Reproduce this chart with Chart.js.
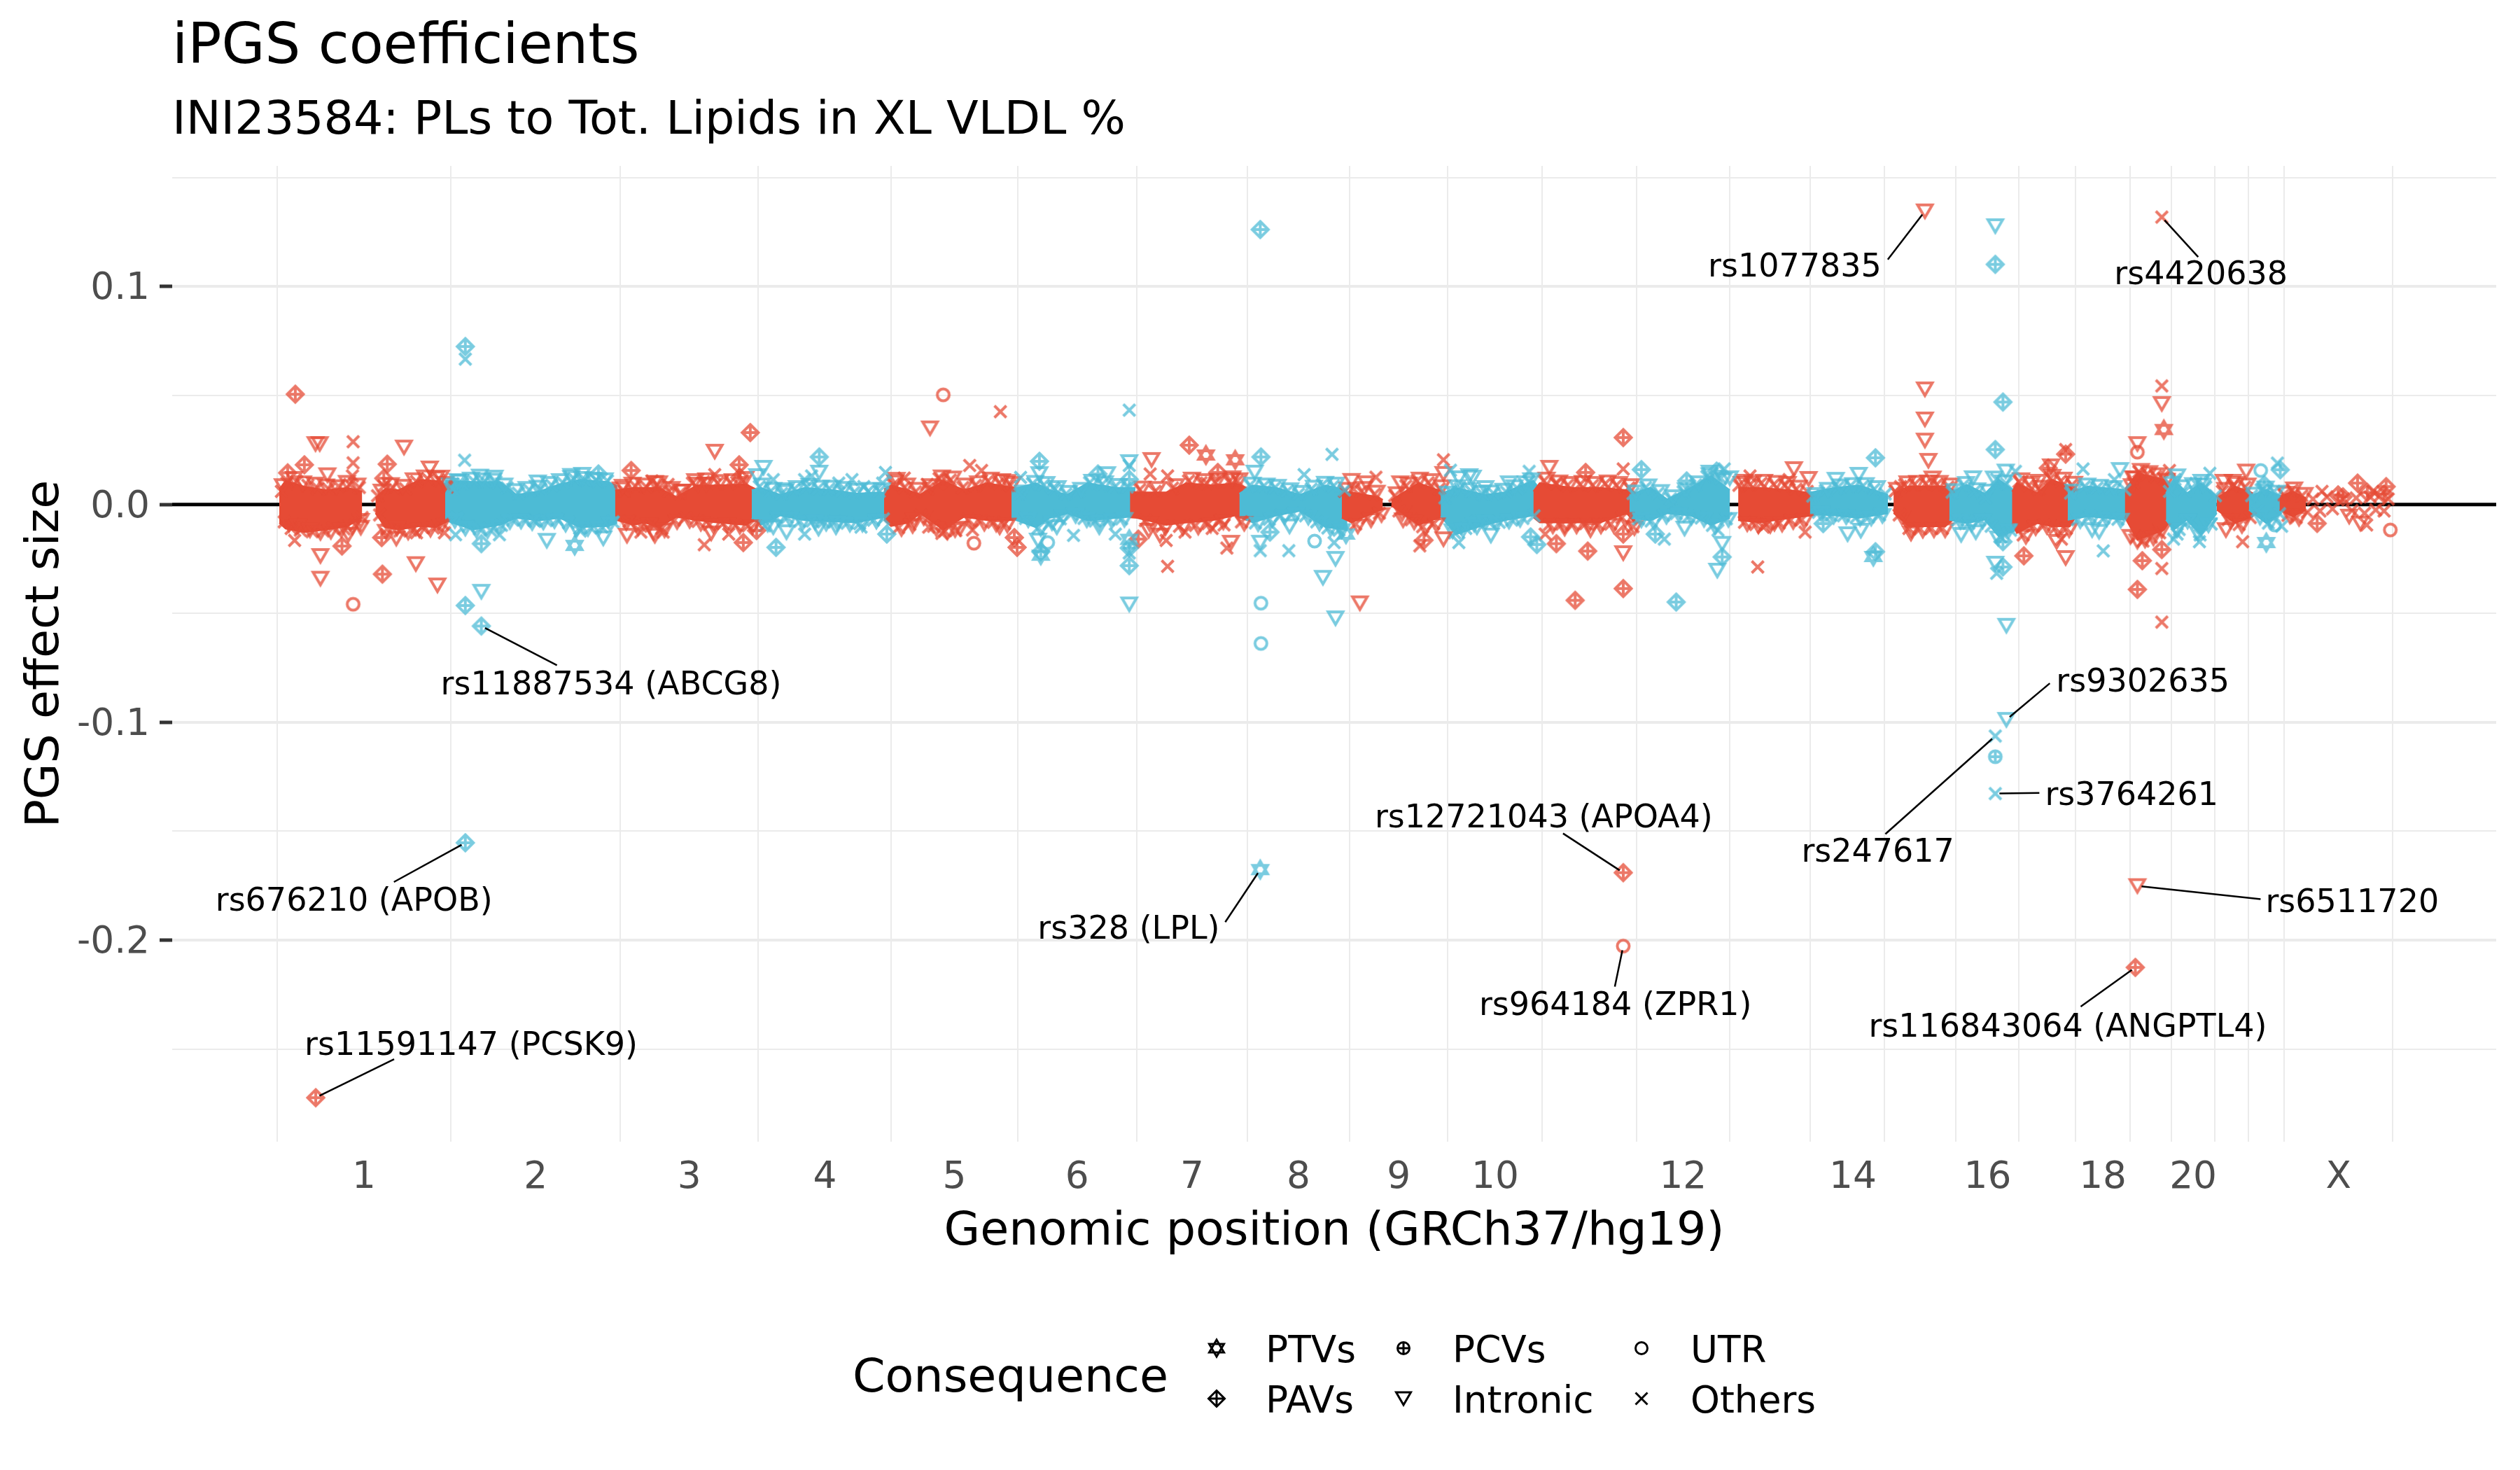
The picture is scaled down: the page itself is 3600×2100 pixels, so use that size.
<!DOCTYPE html>
<html><head><meta charset="utf-8"><style>html,body{margin:0;padding:0;background:#fff}canvas{display:block}</style>
<script src="https://cdn.jsdelivr.net/npm/chart.js@4"></script></head><body><canvas id="c" width="3600" height="2100"></canvas>
<script>
const chromLengths=[249.25,243.2,198.02,191.15,180.92,171.12,159.14,146.36,141.21,135.53,135,133.85,115.17,107.35,102.53,90.35,81.2,78.08,59.13,63.03,48.13,51.3,155.27];
const chromLabels=['1','2','3','4','5','6','7','8','9','10','','12','','14','','16','','18','','20','','','X'];
const chromLabelShift=[0,0,0,0,0,0,0,0,0,0,0,0,0,8,0,0,0,0,0,0,0,0,0];
const yMajorTicks=[0.1,0,-0.1,-0.2];
const yMinorTicks=[0.15,0.05,-0.05,-0.15,-0.25];

// Solid core of each chromosome's cloud, where single markers cannot be told apart: [Mb, upper, lower]
const coreChr1a=[[3,70,-85],[12,109,-111],[39,82,-127],[70,66,-116],[101,77,-100],[122,60,-60]];
const coreChr1b=[[141,30,-40],[155,72,-105],[174,66,-116],[205,114,-100],[228,109,-105],[249,85,-70]];
const coreChr2=[[241,109,-73],[281,104,-116],[320,104,-94],[343,45,-62],[377,61,-73],[405,93,-62],[435,114,-105],[474,104,-100],[488,85,-85]];
const coreChr3=[[485,65,-70],[512,77,-94],[527,77,-83],[548,77,-105],[573,34,-57],[602,88,-73],[631,88,-83],[673,93,-94],[690,66,-60]];
const coreChr4=[[681,66,-62],[694,77,-94],[722,45,-51],[757,77,-73],[798,66,-78],[831,50,-83],[865,56,-62],[880,50,-50]];
const coreChr5=[[871,70,-70],[881,88,-100],[906,66,-83],[923,45,-41],[956,109,-116],[986,66,-57],[1019,98,-73],[1056,77,-73],[1062,65,-65]];
const coreChr6=[[1054,70,-65],[1089,98,-105],[1109,66,-62],[1134,45,-41],[1163,98,-73],[1205,77,-62],[1232,77,-55]];
const coreChr7=[[1224,60,-60],[1234,56,-62],[1276,56,-94],[1305,98,-83],[1342,88,-73],[1375,98,-51],[1392,77,-73]];
const coreChr8=[[1381,50,-55],[1400,88,-83],[1434,77,-51],[1468,45,-30],[1505,88,-105],[1536,66,-116]];
const coreChr9a=[[1528,56,-62],[1542,56,-83],[1580,34,-30],[1587,22,-22]];
const coreChr9b=[[1599,20,-12],[1601,24,-9],[1638,98,-94],[1667,66,-62],[1680,50,-45]];
const coreChr10=[[1670,50,-55],[1692,77,-137],[1733,45,-94],[1762,56,-73],[1803,109,-51],[1815,60,-40]];
const coreChr11=[[1803,60,-60],[1812,98,-83],[1858,77,-83],[1899,77,-83],[1937,66,-41],[1950,55,-90]];
const coreChr12=[[1941,45,-62],[1971,77,-73],[1995,24,-41],[2029,77,-51],[2058,131,-94],[2085,66,-62]];
const coreChr13=[[2097,77,-73],[2129,77,-83],[2170,66,-62],[2207,50,-50]];
const coreChr14=[[2200,55,-45],[2236,77,-51],[2270,88,-62],[2312,45,-41]];
const coreChr15=[[2320,52,-40],[2342,83,-101],[2394,83,-101],[2410,60,-60]];
const coreChr16=[[2400,52,-71],[2425,91,-86],[2451,50,-70],[2471,114,-147],[2498,52,-117]];
const coreChr17=[[2490,60,-86],[2497,98,-132],[2526,52,-86],[2547,114,-101],[2573,83,-101],[2581,60,-60]];
const coreChr18=[[2570,52,-71],[2599,83,-55],[2650,68,-71],[2659,50,-45]];
const coreChr19=[[2652,70,-60],[2670,144,-163],[2708,114,-117],[2718,70,-70]];
const coreChr20=[[2711,52,-71],[2722,114,-117],[2741,52,-71],[2761,98,-140],[2784,37,-40]];
const coreChr21=[[2784,30,-25],[2810,83,-86],[2836,52,-55]];
const coreChr22=[[2830,37,-25],[2855,68,-86],[2877,37,-40]];
const coreChrXa=[[2874,37,-25],[2893,60,-55],[2912,29,-25]];

const redPAV=[[26,506],[39,182],[15,145],[158,185],[153,120],[150,-152],[151,-320],[93,-191],[55.3,-2723],[508,156],[679,330],[663,182],[664,124],[669,-175],[688,-120],[1058,-152],[1062,-197],[956,108],[1309,272],[1236,-159],[1350,147],[1646,-164],[1878,147],[1932,307],[1836,-180],[1881,-214],[1932,-136],[1932,-386],[1863,-440],[1932,-1690],[2667,-2125],[2567,231],[2542,167],[2507,-236],[2670,-390],[2677,-258],[2705,-207],[2986,98],[2958,44],[3027,82],[2928,-87],[3000,55],[3024,48],[2965,35]];
const redIntronic=[[55,278],[61,278],[72,135],[182,262],[219,166],[235,124],[62,-236],[62,-340],[120,-106],[102,-139],[199,-273],[230,-371],[171,-156],[496,82],[502,-143],[540,-130],[628,243],[548,98],[579,60],[604,92],[616,92],[623,-132],[542,-143],[937,350],[889,114],[1048,104],[1037,-104],[973,-117],[914,-72],[1255,205],[1371,121],[1369,-175],[1251,-120],[1267,-142],[1554,-453],[1542,109],[1563,98],[1612,98],[1674,141],[1674,-159],[1616,-72],[1826,169],[1932,-223],[1885,-117],[1848,-110],[2177,163],[2198,118],[2106,105],[2149,-88],[2365,1346],[2365,529],[2365,391],[2365,294],[2370,201],[2376,120],[2345,-133],[2546,176],[2528,105],[2567,-245],[2554,-171],[2670,-1751],[2705,462],[2670,278],[2660,-148],[2664,121],[2826,152],[2794,105],[2807,105],[2797,-117],[2974,-55],[2990,-87]];
const redOthers=[[109,288],[109,191],[25,-165],[200,-130],[240,-130],[108,131],[522,-127],[554,-127],[538,108],[561,92],[628,137],[613,-185],[648,-136],[1038,426],[994,179],[1011,156],[900,121],[933,92],[998,-117],[935,-104],[954,-133],[1253,140],[1278,131],[1334,98],[1278,-284],[1276,-165],[1363,-200],[1303,-127],[1342,-110],[1359,-94],[1577,125],[1674,205],[1640,-190],[1932,163],[1820,-136],[1835,98],[2125,-287],[2114,131],[2193,-127],[2133,-104],[2170,114],[2330,82],[2567,252],[2561,-159],[2705,1319],[2705,544],[2705,-294],[2705,-540],[2716,156],[2821,-171],[2935,60],[2999,-94],[3008,60]];
const redUTR=[[109,-458],[956,503],[1000,-178],[1932,-2027],[2670,240],[3033,-117]];
const redPTV=[[1333,227],[1375,205],[2708,344]];
const redEdgeA=[[6,60],[10,-80],[14,98],[20,-110],[28,105],[33,-118],[44,88],[50,-125],[58,75],[66,-122],[74,70],[80,-108],[88,84],[96,-112],[104,92],[112,-95],[118,78],[122,-60],[144,40],[147,-48],[153,85],[158,-112],[166,78],[176,-122],[184,72],[192,-118],[200,105],[208,-104],[216,118],[224,-108],[232,112],[238,-90],[244,80],[498,62],[505,-78],[514,84],[522,-100],[530,80],[538,-88],[546,90],[552,-110],[562,60],[570,-72],[578,52],[586,-62],[596,98],[604,-78],[612,104],[620,-92],[632,98],[640,-88],[650,100],[658,-95],[668,110],[676,-98],[884,90],[892,-106],[900,78],[908,-92],[916,58],[924,-52],[934,72],[942,-100],[950,118],[958,-122],[966,112],[974,-120],[984,78],[992,-70],[1002,88],[1010,-76],[1020,108],[1028,-82],[1036,98],[1044,-88],[1052,88]];
const redEdgeB=[[1238,68],[1246,-74],[1260,60],[1270,-100],[1285,75],[1295,-100],[1308,108],[1318,-96],[1326,100],[1336,-88],[1346,102],[1354,-72],[1366,105],[1378,108],[1384,-80],[1532,60],[1545,70],[1548,-90],[1556,60],[1565,-62],[1575,48],[1582,-40],[1604,40],[1610,-30],[1620,85],[1628,-70],[1636,108],[1644,-102],[1652,100],[1660,-88],[1668,72],[1818,108],[1826,-92],[1836,95],[1844,-90],[1852,88],[1860,-92],[1870,92],[1878,-88],[1888,88],[1896,-92],[1906,95],[1914,-90],[1922,88],[1930,-60],[1940,76],[1946,-102]];
const redEdgeC=[[2098,88],[2106,-82],[2114,92],[2122,-92],[2130,98],[2138,-90],[2148,92],[2156,-85],[2164,88],[2172,-72],[2180,70],[2188,-70],[2196,60],[2322,60],[2328,-48],[2336,90],[2342,-110],[2350,92],[2358,-112],[2366,95],[2374,-110],[2382,92],[2390,-110],[2398,80],[2500,105],[2506,-140],[2514,88],[2520,-100],[2528,70],[2536,-95],[2545,120],[2552,-108],[2560,108],[2568,-110],[2576,90],[2664,100],[2668,-150],[2672,150],[2678,-168],[2684,140],[2690,-150],[2696,130],[2702,-130],[2708,118],[2792,60],[2800,-70],[2808,88],[2816,-92],[2824,80],[2832,-60],[2880,45],[2886,-50],[2892,65],[2898,-60],[2906,40],[2914,-35],[2922,25],[2932,-30],[2942,35],[2950,-20],[2966,25],[2978,-28],[2984,30],[2996,-40],[3004,35],[3012,-25],[3018,40],[3024,-30],[3030,25]];
const redRing=[[8,85],[17,-92],[24,118],[30,-100],[37,98],[47,-118],[54,92],[62,-130],[70,84],[77,-125],[85,80],[92,-118],[100,100],[108,-105],[115,88],[120,-75],[150,60],[156,-125],[163,90],[172,-110],[180,82],[188,-128],[196,112],[204,-118],[212,125],[220,-115],[228,120],[235,-102],[241,95],[493,70],[501,-85],[510,92],[518,-108],[526,88],[534,-96],[542,100],[556,-118],[566,72],[574,-80],[582,60],[592,-75],[600,108],[608,-88],[616,112],[626,-98],[636,104],[646,-96],[654,108],[664,-102],[672,118],[682,-104],[887,102],[896,-112],[904,88],[912,-98],[920,68],[928,-62],[938,85],[946,-112],[954,125],[962,-128],[970,120],[980,-110],[988,88],[998,-82],[1006,98],[1015,-88],[1024,115],[1032,-92],[1040,108],[1048,-96],[1056,95],[1242,74],[1252,-88],[1264,72],[1275,-108],[1290,85],[1300,-108],[1313,115],[1322,-105],[1331,108],[1340,-96],[1350,110],[1358,-82],[1370,112],[1381,112],[1388,-88],[1536,68],[1551,-100],[1560,72],[1570,-72],[1578,55],[1585,-48],[1607,48],[1615,-42],[1624,92],[1632,-82],[1640,115],[1648,-110],[1656,108],[1664,-95],[1672,80],[1822,115],[1831,-100],[1840,102],[1848,-98],[1856,95],[1865,-100],[1874,100],[1883,-95],[1892,95],[1900,-100],[1910,102],[1918,-96],[1926,95],[1935,-70],[1943,85],[1948,-108],[2102,95],[2110,-90],[2118,100],[2126,-100],[2134,105],[2143,-98],[2152,100],[2160,-92],[2168,95],[2176,-80],[2184,78],[2192,-78],[2325,68],[2332,-60],[2340,98],[2346,-118],[2354,100],[2362,-120],[2370,102],[2378,-118],[2386,100],[2394,-118],[2402,88],[2503,112],[2510,-148],[2518,95],[2524,-108],[2532,78],[2540,-102],[2548,128],[2556,-115],[2564,115],[2572,-118],[2579,96],[2662,85],[2666,120],[2670,-170],[2675,155],[2681,-165],[2687,145],[2693,-155],[2699,135],[2705,-122],[2712,110],[2796,68],[2804,-78],[2812,95],[2820,-98],[2828,88],[2883,50],[2889,-55],[2895,70],[2902,-65],[2910,45]];

const bluePAV=[[270,725],[270,-464],[293,-558],[270,-1553],[293,-180],[461,140],[778,218],[716,-197],[875,-136],[1094,198],[1096,-217],[1223,115],[1223,-200],[1223,-281],[1178,140],[1412,218],[1425,-127],[1411,1262],[1799,-149],[1808,-184],[1958,160],[2008,-448],[1978,-136],[2023,108],[2066,153],[2074,-241],[2219,-88],[2294,214],[2294,-217],[2466,1102],[2477,470],[2466,252],[2477,-171],[2477,-287],[2875,159],[2852,90]];
const blueIntronic=[[293,-400],[259,108],[291,129],[312,124],[374,102],[422,132],[438,137],[387,-166],[468,-155],[698,169],[689,131],[730,66],[778,147],[712,-104],[731,-127],[777,-110],[802,-104],[1094,140],[1092,-165],[1119,-104],[1223,195],[1223,-458],[1180,-104],[1191,140],[1403,147],[1411,-175],[1519,-249],[1501,-336],[1519,-522],[1453,-100],[1711,131],[1696,121],[1734,76],[1742,-142],[1722,-104],[1768,98],[1716,124],[2020,-110],[2056,147],[2085,121],[2067,-303],[2074,-180],[2270,137],[2237,114],[2254,-136],[2273,-120],[2466,1278],[2434,121],[2481,152],[2417,-139],[2438,-127],[2466,-271],[2482,-556],[2482,-988],[2645,159],[2605,-117],[2615,-125],[2727,130],[2762,105]];
const blueOthers=[[269,203],[270,667],[256,-139],[319,-139],[368,-72],[435,-122],[712,114],[757,114],[767,131],[806,98],[825,114],[842,82],[873,147],[869,98],[757,-136],[838,-104],[1067,124],[1114,76],[1143,-142],[1223,433],[1223,179],[1203,-136],[1223,-223],[1514,230],[1474,137],[1411,-212],[1452,-212],[1517,-175],[1684,157],[1696,-175],[1797,152],[2077,163],[1991,-159],[2466,-1063],[2466,-1327],[2495,152],[2468,-316],[2592,163],[2637,114],[2621,-213],[2774,143],[2759,-171],[2722,-159],[2727,-136],[2871,190],[2877,-100]];
const blueUTR=[[1106,-175],[1412,-453],[1412,-638],[1489,-168],[2847,156],[2867,-94]];
const bluePCV=[[2466,-1158]];
const bluePTV=[[427,-188],[1096,-233],[1411,-1676],[1534,-136],[2291,-239],[2855,-175],[1223,-160]];
const blueEdgeA=[[252,70],[258,-60],[266,95],[274,-100],[282,108],[290,-112],[298,106],[306,-118],[314,104],[322,-96],[330,76],[338,-72],[346,52],[354,-70],[362,66],[370,-78],[378,70],[386,-74],[394,88],[402,-70],[410,100],[418,-84],[426,118],[434,-110],[442,112],[450,-108],[458,110],[466,-104],[474,108],[482,-80],[692,82],[700,-98],[708,60],[716,-60],[724,50],[732,-60],[742,70],[750,-78],[760,80],[768,-76],[776,72],[784,-80],[792,72],[800,-80],[810,64],[818,-86],[828,56],[836,-88],[848,60],[856,-72],[864,60],[870,-66],[1066,48],[1074,-64],[1084,95],[1092,-108],[1100,90],[1108,-90],[1116,70],[1124,-66],[1132,48],[1140,-44],[1150,60],[1158,-64],[1166,100],[1174,-76],[1184,92],[1194,-70],[1202,80],[1212,-66],[1220,80]];
const blueEdgeB=[[1396,88],[1404,-85],[1416,85],[1424,-68],[1432,78],[1440,-52],[1450,62],[1458,-42],[1466,48],[1476,-52],[1484,70],[1492,-80],[1500,90],[1508,-108],[1516,85],[1524,-118],[1532,66],[1676,30],[1684,60],[1690,-130],[1698,72],[1706,-110],[1714,60],[1722,-80],[1730,48],[1738,-78],[1746,50],[1754,-82],[1764,58],[1772,-72],[1780,75],[1788,-64],[1796,105],[1804,-52],[1946,50],[1954,-66],[1964,78],[1972,-76],[1982,52],[1990,-50],[2000,26],[2008,-42],[2018,58],[2026,-54],[2036,90],[2044,-62],[2052,128],[2060,-96],[2068,-118],[2072,120],[2080,-66]];
const blueEdgeC=[[2204,38],[2212,-36],[2222,62],[2230,-50],[2240,78],[2248,-52],[2258,85],[2266,-60],[2276,85],[2284,-58],[2292,70],[2300,-48],[2308,48],[2404,56],[2412,-72],[2420,88],[2428,-86],[2436,60],[2444,-70],[2452,30],[2460,-100],[2468,115],[2474,-150],[2482,95],[2488,-118],[2574,52],[2584,-70],[2594,82],[2602,-55],[2612,76],[2622,-62],[2632,70],[2642,-68],[2652,68],[2716,60],[2724,115],[2730,-115],[2738,60],[2746,-72],[2754,96],[2760,-140],[2768,80],[2776,-90],[2782,40],[2834,40],[2842,-30],[2850,68],[2858,-86],[2866,60],[2874,-42]];
const blueRing=[[248,88],[255,-75],[262,105],[270,-110],[278,115],[286,-120],[294,112],[302,-122],[310,110],[318,-104],[326,88],[334,-80],[342,62],[350,-78],[358,72],[366,-85],[374,78],[382,-82],[390,95],[398,-76],[406,108],[414,-92],[422,122],[430,-115],[438,118],[446,-112],[454,115],[462,-108],[470,112],[478,-90],[696,88],[704,-92],[712,68],[720,-68],[728,58],[736,-68],[746,76],[754,-85],[764,86],[772,-82],[780,78],[788,-88],[796,78],[804,-86],[814,72],[822,-92],[832,64],[840,-92],[852,68],[860,-78],[868,66],[1070,56],[1078,-72],[1088,100],[1096,-112],[1104,95],[1112,-85],[1120,76],[1128,-58],[1136,54],[1146,-52],[1154,68],[1162,-72],[1170,105],[1180,-82],[1188,98],[1198,-76],[1208,86],[1216,-70],[1400,92],[1408,-90],[1420,88],[1428,-72],[1436,82],[1446,-58],[1454,66],[1462,-48],[1470,54],[1480,-60],[1488,78],[1496,-88],[1504,96],[1512,-112],[1520,92],[1528,-122],[1680,50],[1687,-122],[1694,80],[1702,-118],[1710,66],[1718,-92],[1726,54],[1734,-84],[1742,56],[1750,-88],[1760,64],[1768,-78],[1776,80],[1784,-70],[1792,98],[1800,112],[1950,56],[1958,-72],[1968,84],[1976,-82],[1986,58],[1994,-56],[2004,34],[2012,-48],[2022,66],[2030,-60],[2040,98],[2048,-70],[2056,135],[2064,-104],[2076,112],[2083,-70],[2208,44],[2216,-42],[2226,68],[2234,-56],[2244,84],[2252,-58],[2262,90],[2272,-66],[2280,90],[2288,-64],[2296,76],[2304,-52],[2408,62],[2416,-80],[2424,95],[2432,-92],[2440,66],[2448,-78],[2456,60],[2464,120],[2470,-155],[2478,102],[2485,-122],[2578,60],[2588,-76],[2598,88],[2606,-62],[2616,82],[2626,-68],[2636,76],[2646,-74],[2720,95],[2727,-118],[2734,80],[2742,-78],[2750,90],[2757,-135],[2764,88],[2772,-95],[2838,46],[2846,-60],[2854,74],[2862,-80],[2870,55]];

// label, Mb, effect x 1e4, leader end dx,dy (px from point), text dx,dy, align
const geneLabels=[
['rs1077835',2365,1346,-53,69,-62,76,'right'],
['rs4420638',2705,1319,52,57,-68,79,'left'],
['rs11887534 (ABCG8)',293,-558,108,56,-58,81,'left'],
['rs676210 (APOB)',270,-1553,-102,56,-357,80,'left'],
['rs11591147 (PCSK9)',55.3,-2723,112,-55,-16,-78,'left'],
['rs328 (LPL)',1411,-1676,-50,75,-318,82,'left'],
['rs12721043 (APOA4)',1932,-1690,-86,-56,-355,-82,'left'],
['rs964184 (ZPR1)',1932,-2027,-12,58,-206,82,'left'],
['rs9302635',2482,-988,62,-52,71,-57,'left'],
['rs247617',2466,-1063,-157,140,-277,163,'left'],
['rs3764261',2466,-1327,63,-1,71,-1,'left'],
['rs6511720',2670,-1751,176,19,183,20,'left'],
['rs116843064 (ANGPTL4)',2667,-2125,-78,56,-381,82,'left']];

const legendRows=[['PTVs','PTV',1738,1926,1808],['PAVs','PAV',1738,1998,1808],['PCVs','PCV',2005,1926,2075],['Intronic','Intronic',2005,1998,2075],['UTR','UTR',2345,1926,2415],['Others','Others',2345,1998,2415]];

const RED='#E64B35',BLUE='#4DBBD5',FONT='"DejaVu Sans"';
function marker(shape,color,alpha,lw){
  const c=document.createElement('canvas');c.width=c.height=40;const g=c.getContext('2d');
  g.translate(20,20);g.strokeStyle=color;g.globalAlpha=alpha;g.lineWidth=lw;g.lineJoin='miter';
  const path=f=>{g.beginPath();f();g.stroke();};
  const plusV=(h)=>{g.moveTo(0,-h);g.lineTo(0,h);};const plusH=(w)=>{g.moveTo(-w,0);g.lineTo(w,0);};
  if(shape==='Others')path(()=>{g.moveTo(-8.5,-8.5);g.lineTo(8.5,8.5);g.moveTo(8.5,-8.5);g.lineTo(-8.5,8.5);});
  if(shape==='Intronic')path(()=>{g.moveTo(-10.5,-9);g.lineTo(10.5,-9);g.lineTo(0,9);g.closePath();});
  if(shape==='PAV')path(()=>{g.moveTo(0,-11.5);g.lineTo(11.5,0);g.lineTo(0,11.5);g.lineTo(-11.5,0);g.closePath();plusV(11.5);plusH(11.5);});
  if(shape==='UTR')path(()=>{g.arc(0,0,8.5,0,Math.PI*2);});
  if(shape==='PCV')path(()=>{g.arc(0,0,8.5,0,Math.PI*2);plusV(8.5);plusH(8.5);});
  if(shape==='PTV')path(()=>{g.moveTo(-10.5,-6);g.lineTo(10.5,-6);g.lineTo(0,12);g.closePath();g.moveTo(-10.5,6);g.lineTo(10.5,6);g.lineTo(0,-12);g.closePath();});
  return c;
}
const cum=[0];chromLengths.forEach(l=>cum.push(cum[cum.length-1]+l));
const centres={};chromLabels.forEach((t,i)=>{if(t)centres[((cum[i]+cum[i+1])/2+chromLabelShift[i]).toFixed(3)]=t;});
const xTicks=cum.concat(Object.keys(centres).map(Number));
const pts=a=>a.map(p=>({x:p[0],y:p[1]/1e4}));
const datasets=[];
datasets.push({type:'line',data:[{x:-152,y:0},{x:3190,y:0}],borderColor:'#000',borderWidth:5,pointRadius:0,order:5000});
const coreList=[[coreChr1a,RED],[coreChr1b,RED],[coreChr2,BLUE],[coreChr3,RED],[coreChr4,BLUE],[coreChr5,RED],[coreChr6,BLUE],[coreChr7,RED],[coreChr8,BLUE],[coreChr9a,RED],[coreChr9b,RED],[coreChr10,BLUE],[coreChr11,RED],[coreChr12,BLUE],[coreChr13,RED],[coreChr14,BLUE],[coreChr15,RED],[coreChr16,BLUE],[coreChr17,RED],[coreChr18,BLUE],[coreChr19,RED],[coreChr20,BLUE],[coreChr21,RED],[coreChr22,BLUE],[coreChrXa,RED]];
coreList.forEach(([a,col],i)=>{
  const o=4000-2*i;
  datasets.push({type:'line',data:a.map(p=>({x:p[0],y:p[1]/1e4})),borderColor:col,borderWidth:2,pointRadius:0,backgroundColor:col,fill:'+1',order:o});
  datasets.push({type:'line',data:a.map(p=>({x:p[0],y:p[2]/1e4})),borderColor:col,borderWidth:2,pointRadius:0,fill:false,order:o-1});
});
const ALPHA=0.75,LW=4;
[[redEdgeA,'Others',RED],[redEdgeB,'Others',RED],[redEdgeC,'Others',RED],[redRing,'Intronic',RED],[blueEdgeA,'Others',BLUE],[blueEdgeB,'Others',BLUE],[blueEdgeC,'Others',BLUE],[blueRing,'Intronic',BLUE],
 [redPAV,'PAV',RED],[redIntronic,'Intronic',RED],[redOthers,'Others',RED],[redUTR,'UTR',RED],[redPTV,'PTV',RED],
 [bluePAV,'PAV',BLUE],[blueIntronic,'Intronic',BLUE],[blueOthers,'Others',BLUE],[blueUTR,'UTR',BLUE],[bluePCV,'PCV',BLUE],[bluePTV,'PTV',BLUE]].forEach(([a,s,col],i)=>{
  datasets.push({type:'scatter',data:pts(a),pointStyle:marker(s,col,ALPHA,LW),pointRadius:14,showLine:false,order:100-i});
});
const extras={id:'extras',afterDraw(ch){
  const g=ch.ctx,X=ch.scales.x,Y=ch.scales.y;g.save();
  g.font='46px '+FONT;g.textBaseline='middle';g.fillStyle='#000';g.strokeStyle='#000';g.lineWidth=2.5;
  geneLabels.forEach(([t,mb,v,ex,ey,tx,ty,al])=>{
    const px=X.getPixelForValue(mb),py=Y.getPixelForValue(v/1e4),len=Math.hypot(ex,ey);
    g.beginPath();g.moveTo(px+ex/len*6,py+ey/len*6);g.lineTo(px+ex,py+ey);g.stroke();
    g.textAlign=al;g.fillText(t,px+tx,py+ty+5);
  });
  g.textAlign='left';g.font='66.7px '+FONT;g.fillText('Consequence',1218,1971);
  g.font='53.3px '+FONT;
  legendRows.forEach(([t,s,mx,my,tx])=>{g.drawImage(marker(s,'#000',1,3),mx-20,my-20);g.fillText(t,tx,my+6);});
  g.restore();
}};
new Chart(document.getElementById('c'),{type:'scatter',data:{datasets},plugins:[extras],options:{
  responsive:false,animation:false,events:[],devicePixelRatio:1,
  layout:{padding:{left:0,right:34,top:0,bottom:306}},
  plugins:{legend:{display:false},tooltip:{enabled:false},
    title:{display:true,text:'iPGS coefficients',align:'start',fullSize:false,color:'#000',font:{family:FONT,size:80,weight:'normal',lineHeight:1},padding:{top:29,bottom:0}},
    subtitle:{display:true,text:'INI23584: PLs to Tot. Lipids in XL VLDL %',align:'start',fullSize:false,color:'#000',font:{family:FONT,size:66.7,weight:'normal',lineHeight:1},padding:{top:31,bottom:30.3}}},
  scales:{
    x:{type:'linear',min:-150.7,max:3185,afterFit(s){s.height=163;},
      afterBuildTicks(s){s.ticks=xTicks.map(v=>({value:v}));},
      border:{display:false},
      grid:{drawTicks:false,lineWidth:2,color:c=>centres[(c.tick&&c.tick.value||0).toFixed(3)]?'rgba(0,0,0,0)':'#EBEBEB'},
      ticks:{autoSkip:false,maxRotation:0,padding:25,color:'#4D4D4D',font:{family:FONT,size:53.3,lineHeight:1},callback:v=>centres[v.toFixed(3)]||''},
      title:{display:true,text:'Genomic position (GRCh37/hg19)',color:'#000',font:{family:FONT,size:66.7,lineHeight:1},padding:{top:0,bottom:0}}},
    y:{type:'linear',min:-0.2925,max:0.1554,afterFit(s){s.width=246;},
      afterBuildTicks(s){s.ticks=yMajorTicks.concat(yMinorTicks).map(v=>({value:v}));},
      border:{display:false},
      grid:{color:'#EBEBEB',lineWidth:c=>yMajorTicks.includes(c.tick&&c.tick.value)?4:2,tickLength:18,
        tickColor:c=>yMajorTicks.includes(c.tick&&c.tick.value)?'#333333':'rgba(0,0,0,0)',tickWidth:5},
      ticks:{autoSkip:false,padding:14,labelOffset:4,color:'#4D4D4D',font:{family:FONT,size:53.3,lineHeight:1},callback:v=>yMajorTicks.includes(v)?v.toFixed(1):''},
      title:{display:true,text:'PGS effect size',color:'#000',font:{family:FONT,size:66.7,lineHeight:1},padding:{top:32,bottom:0}}}
  }}});
</script></body></html>
